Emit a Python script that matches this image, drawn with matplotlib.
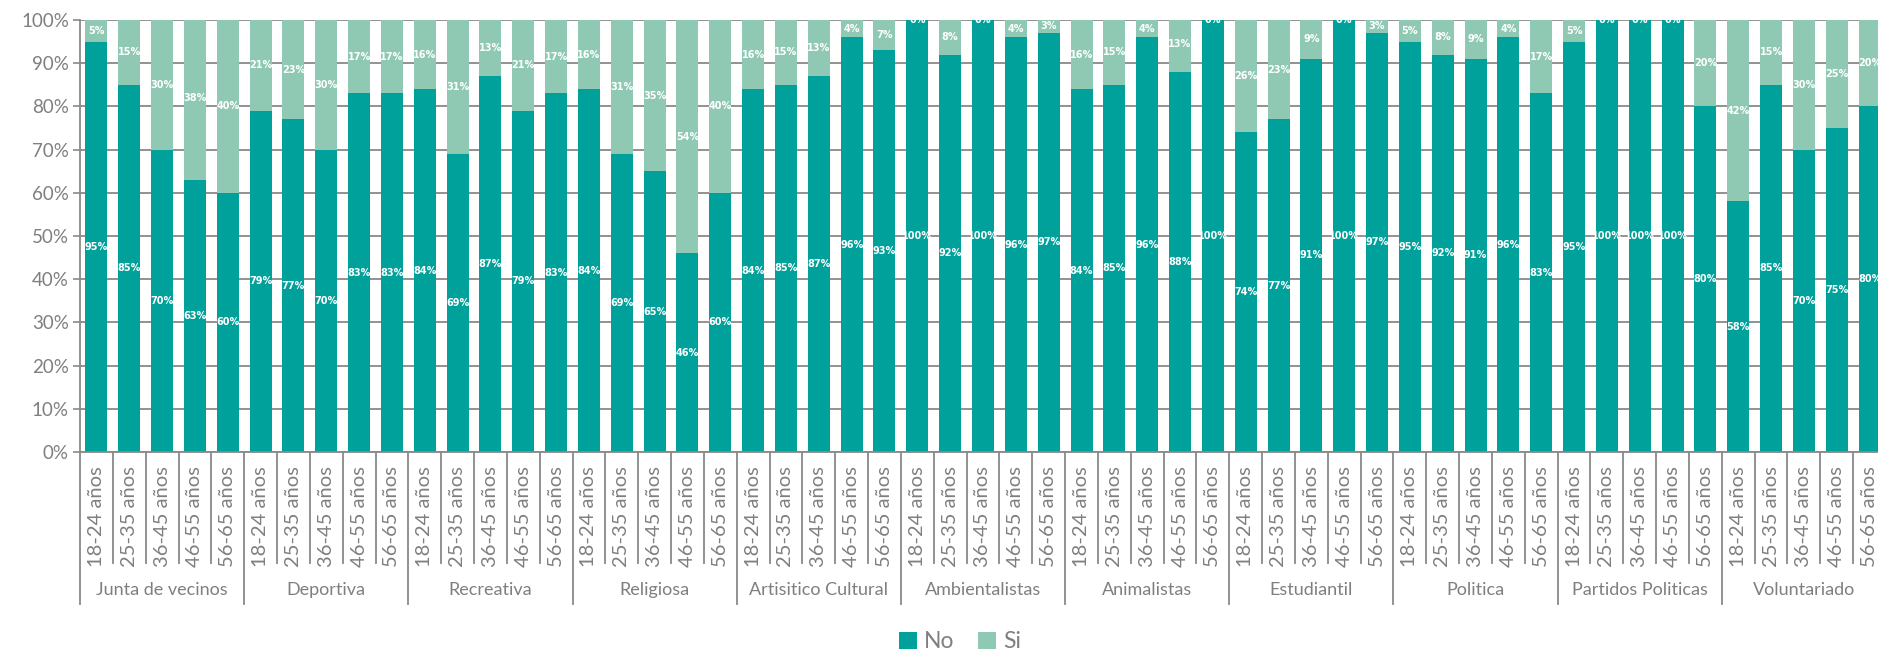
import matplotlib
matplotlib.use("Agg")
import matplotlib.pyplot as plt
import matplotlib.transforms as mtransforms
from matplotlib.patches import Patch

groups = ["Junta de vecinos", "Deportiva", "Recreativa", "Religiosa", "Artisitico Cultural",
          "Ambientalistas", "Animalistas", "Estudiantil", "Politica", "Partidos Politicas",
          "Voluntariado"]
ages = ["18-24 años", "25-35 años", "36-45 años", "46-55 años", "56-65 años"]

no_vals = [
    95, 85, 70, 63, 60,
    79, 77, 70, 83, 83,
    84, 69, 87, 79, 83,
    84, 69, 65, 46, 60,
    84, 85, 87, 96, 93,
    100, 92, 100, 96, 97,
    84, 85, 96, 88, 100,
    74, 77, 91, 100, 97,
    95, 92, 91, 96, 83,
    95, 100, 100, 100, 80,
    58, 85, 70, 75, 80,
]
si_vals = [
    5, 15, 30, 38, 40,
    21, 23, 30, 17, 17,
    16, 31, 13, 21, 17,
    16, 31, 35, 54, 40,
    16, 15, 13, 4, 7,
    0, 8, 0, 4, 3,
    16, 15, 4, 13, 0,
    26, 23, 9, 0, 3,
    5, 8, 9, 4, 17,
    5, 0, 0, 0, 20,
    42, 15, 30, 25, 20,
]

C_NO = "#00A19A"
C_SI = "#8FC9B4"
GRAY = "#898989"
TXT = "#7F7F7F"
FONT = ["Lato", "DejaVu Sans"]

W, H = 1878, 652
fig = plt.figure(figsize=(W / 100, H / 100), dpi=100)
left, right, top, bottom = 80, 1886, 20, 452
ax = fig.add_axes([left / W, 1 - bottom / H, (right - left) / W, (bottom - top) / H])

n = len(no_vals)
x = list(range(n))
ax.bar(x, no_vals, width=0.67, color=C_NO, zorder=2)
ax.bar(x, si_vals, width=0.67, bottom=no_vals, color=C_SI, zorder=2)

for i in range(n):
    ax.text(i, no_vals[i] / 2, f"{no_vals[i]}%", ha="center", va="center", color="white",
            fontsize=7, fontweight="bold", family=["Liberation Sans Narrow", "DejaVu Sans"], zorder=3)
    ax.text(i, no_vals[i] + si_vals[i] / 2, f"{si_vals[i]}%", ha="center", va="center",
            color="white", fontsize=7, fontweight="bold",
            family=["Liberation Sans Narrow", "DejaVu Sans"], zorder=3, clip_on=False)

ax.set_xlim(-0.5, n - 0.5)
ax.set_ylim(0, 100)
ax.set_yticks(range(0, 101, 10))
ax.set_yticklabels([f"{v}%" for v in range(0, 101, 10)], fontsize=13.5, color=TXT, family=FONT)
ax.yaxis.grid(True, color=GRAY, linewidth=1.3, zorder=0)
ax.set_axisbelow(True)
ax.tick_params(axis="y", length=5, width=1.2, color=GRAY, pad=3)

ax.set_xticks(x)
ax.set_xticklabels(ages * len(groups), rotation=90, fontsize=14.5, color=TXT, family=FONT)
ax.tick_params(axis="x", length=0, pad=10)

for s in ["top", "right"]:
    ax.spines[s].set_visible(False)
for s in ["left", "bottom"]:
    ax.spines[s].set_color(GRAY)
    ax.spines[s].set_linewidth(1.3)

trans = mtransforms.blended_transform_factory(ax.transData, ax.transAxes)
ph = bottom - top
tick_y = -(563 - bottom) / ph
grp_y = -(604 - bottom) / ph
lab_y = -(590 - bottom) / ph
for i in range(n + 1):
    xb = i - 0.5
    y2 = grp_y if i % 5 == 0 else tick_y
    ax.plot([xb, xb], [0, y2], color=GRAY, linewidth=1.3, transform=trans, clip_on=False)
for g, name in enumerate(groups):
    ax.text(g * 5 + 2, lab_y, name, transform=trans, ha="center", va="center",
            fontsize=13, color=TXT, family=FONT)

handles = [Patch(facecolor=C_NO, label="No"), Patch(facecolor=C_SI, label="Si")]
leg = fig.legend(handles=handles, loc="center", bbox_to_anchor=(960 / W, 1 - 642 / H), ncol=2,
                 frameon=False, prop={"family": FONT, "size": 16.5}, handlelength=0.8,
                 handleheight=0.8, handletextpad=0.3, columnspacing=1.0)
for t in leg.get_texts():
    t.set_color(TXT)

fig.savefig("out.png", dpi=100)
